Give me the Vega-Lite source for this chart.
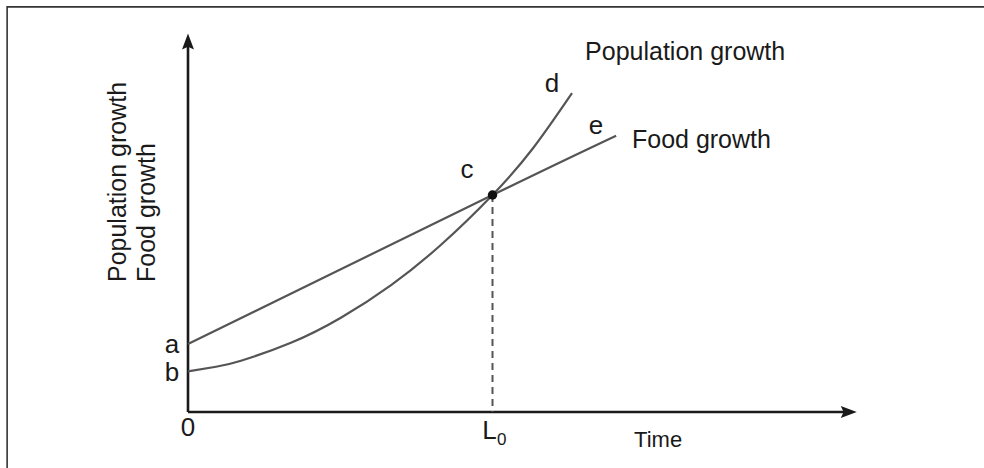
{
  "$schema": "https://vega.github.io/schema/vega-lite/v6.json",
  "width": 984,
  "height": 468,
  "padding": 0,
  "autosize": {"type": "none"},
  "background": "white",
  "config": {"view": {"stroke": null}, "text": {"font": "Liberation Sans"}},
  "datasets": {
    "border": [{"x1": -5.94, "x2": 40, "y1": 10.66, "y2": -5}],
    "axes": [
      {"name": "y", "x": 0, "y": 0, "x2": 0, "y2": 9.75},
      {"name": "x", "x": 0, "y": 0, "x2": 21.7, "y2": 0}
    ],
    "curves": [
      {"series": "Food growth", "t": 0.0, "v": 1.79},
      {"series": "Food growth", "t": 10.0, "v": 5.71},
      {"series": "Food growth", "t": 14.06, "v": 7.27},
      {"series": "Population growth", "t": 0.0, "v": 1.07},
      {"series": "Population growth", "t": 0.92, "v": 1.19},
      {"series": "Population growth", "t": 1.74, "v": 1.35},
      {"series": "Population growth", "t": 3.38, "v": 1.82},
      {"series": "Population growth", "t": 5.02, "v": 2.48},
      {"series": "Population growth", "t": 6.67, "v": 3.34},
      {"series": "Population growth", "t": 8.31, "v": 4.4},
      {"series": "Population growth", "t": 10.0, "v": 5.71},
      {"series": "Population growth", "t": 11.33, "v": 6.94},
      {"series": "Population growth", "t": 12.61, "v": 8.39}
    ],
    "equilibrium": [{"label": "c", "t": 10.0, "v": 5.71, "v0": 0}],
    "letters": [
      {"label": "a", "t": -0.53, "v": 1.76},
      {"label": "b", "t": -0.53, "v": 1.02},
      {"label": "0", "t": 0.0, "v": -0.42},
      {"label": "L", "t": 9.9, "v": -0.5},
      {"label": "c", "t": 9.16, "v": 6.37},
      {"label": "d", "t": 11.95, "v": 8.63},
      {"label": "e", "t": 13.4, "v": 7.53}
    ],
    "subscripts": [{"label": "0", "t": 10.3, "v": -0.74}],
    "names": [
      {"label": "Population growth", "t": 13.04, "v": 9.47},
      {"label": "Food growth", "t": 14.58, "v": 7.16}
    ],
    "time": [{"label": "Time", "t": 14.65, "v": -0.74}],
    "ytitle": [
      {"label": "Population growth", "t": -2.3, "v": 3.42},
      {"label": "Food growth", "t": -1.35, "v": 3.42}
    ]
  },
  "encoding": {
    "x": {"type": "quantitative", "scale": {"domain": [-6.174, 26.141], "nice": false, "zero": false}, "axis": null},
    "y": {"type": "quantitative", "scale": {"domain": [-1.474, 10.842], "nice": false, "zero": false}, "axis": null}
  },
  "layer": [
    {
      "data": {"name": "border"},
      "mark": {"type": "rect", "fill": null, "stroke": "#333333", "strokeWidth": 1.6, "clip": true},
      "encoding": {"x": {"field": "x1"}, "x2": {"field": "x2"}, "y": {"field": "y1"}, "y2": {"field": "y2"}}
    },
    {
      "data": {"name": "axes"},
      "mark": {"type": "rule", "color": "#1a1a1a", "strokeWidth": 2.6},
      "encoding": {"x": {"field": "x"}, "y": {"field": "y"}, "x2": {"field": "x2"}, "y2": {"field": "y2"}}
    },
    {
      "data": {"name": "axes"},
      "transform": [{"filter": "datum.name == 'y'"}],
      "mark": {"type": "point", "shape": "M0,-1L0.75,1L0,0.65L-0.75,1Z", "size": 256, "filled": true, "color": "#1a1a1a", "opacity": 1},
      "encoding": {"x": {"field": "x2"}, "y": {"field": "y2"}}
    },
    {
      "data": {"name": "axes"},
      "transform": [{"filter": "datum.name == 'x'"}],
      "mark": {"type": "point", "shape": "M0,-1L0.75,1L0,0.65L-0.75,1Z", "size": 256, "angle": 90, "filled": true, "color": "#1a1a1a", "opacity": 1},
      "encoding": {"x": {"field": "x2"}, "y": {"field": "y2"}}
    },
    {
      "data": {"name": "curves"},
      "mark": {"type": "line", "color": "#555555", "strokeWidth": 2.2, "interpolate": "natural"},
      "encoding": {"x": {"field": "t"}, "y": {"field": "v"}, "detail": {"field": "series"}}
    },
    {
      "data": {"name": "equilibrium"},
      "mark": {"type": "rule", "color": "#555555", "strokeWidth": 2, "strokeDash": [7, 5]},
      "encoding": {"x": {"field": "t"}, "y": {"field": "v"}, "y2": {"field": "v0"}}
    },
    {
      "data": {"name": "equilibrium"},
      "mark": {"type": "point", "filled": true, "color": "#111111", "size": 90, "opacity": 1},
      "encoding": {"x": {"field": "t"}, "y": {"field": "v"}}
    },
    {
      "data": {"name": "letters"},
      "mark": {"type": "text", "fontSize": 26, "color": "#1a1a1a", "align": "center", "baseline": "middle"},
      "encoding": {"x": {"field": "t"}, "y": {"field": "v"}, "text": {"field": "label"}}
    },
    {
      "data": {"name": "subscripts"},
      "mark": {"type": "text", "fontSize": 17, "color": "#1a1a1a", "align": "center", "baseline": "middle"},
      "encoding": {"x": {"field": "t"}, "y": {"field": "v"}, "text": {"field": "label"}}
    },
    {
      "data": {"name": "names"},
      "mark": {"type": "text", "fontSize": 25, "color": "#1a1a1a", "align": "left", "baseline": "middle"},
      "encoding": {"x": {"field": "t"}, "y": {"field": "v"}, "text": {"field": "label"}}
    },
    {
      "data": {"name": "time"},
      "mark": {"type": "text", "fontSize": 22, "color": "#1a1a1a", "align": "left", "baseline": "middle"},
      "encoding": {"x": {"field": "t"}, "y": {"field": "v"}, "text": {"field": "label"}}
    },
    {
      "data": {"name": "ytitle"},
      "mark": {"type": "text", "fontSize": 25, "color": "#1a1a1a", "align": "left", "baseline": "middle", "angle": 270},
      "encoding": {"x": {"field": "t"}, "y": {"field": "v"}, "text": {"field": "label"}}
    }
  ]
}
